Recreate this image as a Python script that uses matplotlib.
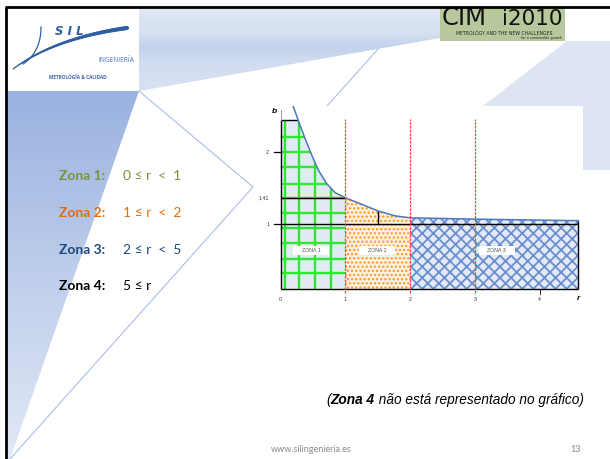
import numpy as np
import matplotlib
matplotlib.use("Agg")
import matplotlib.pyplot as plt
from matplotlib.patches import Polygon, Rectangle
from matplotlib.collections import LineCollection
from matplotlib.colors import to_rgb

# ---------------- chart values ----------------
curve_r = [0.195, 0.27, 0.375, 0.48, 0.58, 0.71, 0.84, 1.00, 1.25, 1.51, 1.77, 2.00, 3.00, 4.60]
curve_b = [2.82, 2.61, 2.33, 2.07, 1.84, 1.63, 1.49, 1.41, 1.31, 1.205, 1.13, 1.10, 1.08, 1.056]
zone_edges = [0.0, 1.0, 2.0, 4.6]
zone1_cap = 2.61
grid_x = [0.06, 0.29, 0.53, 0.77]
grid_y = [0.24, 0.47, 0.71, 0.94, 1.17, 1.41, 1.63, 1.89, 2.12, 2.35]
zone_names = ["ZONA 1", "ZONA 2", "ZONA 3"]
zone_label_x = [0.47, 1.49, 3.34]
zone_label_y = 0.60
red_lines = [1, 2, 3]
xtick_vals = [0, 1, 2, 3, 4]
ytick_pos = [1.0, 2.11]
ytick_lbl = ["1", "2"]
b_mark = 1.41
b_mark_lbl = "1,41"
step_r = 1.51

side_labels = ["Zona 1:", "Zona 2:", "Zona 3:", "Zona 4:"]
side_ranges = ["0 \u2264 r  <  1", "1 \u2264 r  <  2", "2 \u2264 r  <  5", "5 \u2264 r"]
side_colors = ["#77933c", "#e46c0a", "#1f497d", "#000000"]
side_y = [176, 213, 250, 286]

W, H = 610, 459


def vgrad(ax, pts, stops, z=1):
    # polygon filled with a vertical gradient
    pts = np.array(pts, float)
    x0, x1 = pts[:, 0].min(), pts[:, 0].max()
    y0, y1 = pts[:, 1].min(), pts[:, 1].max()
    ys = np.linspace(y0, y1, 200)
    sy = [s[0] for s in stops]
    cols = np.array([to_rgb(s[1]) for s in stops])
    arr = np.stack([np.interp(ys, sy, cols[:, k]) for k in range(3)], axis=1)
    img = np.repeat(arr[:, None, :], 2, axis=1)
    poly = Polygon(pts, closed=True, fc="none", ec="none")
    ax.add_patch(poly)
    im = ax.imshow(img, extent=(x0, x1, y1, y0), origin="upper", aspect="auto",
                   interpolation="bilinear", zorder=z)
    im.set_clip_path(poly)


def bez(p0, p1, p2, n=60):
    t = np.linspace(0, 1, n)[:, None]
    p0, p1, p2 = map(np.array, (p0, p1, p2))
    return (1 - t) ** 2 * p0 + 2 * (1 - t) * t * p1 + t ** 2 * p2


fig = plt.figure(figsize=(W / 100, H / 100), dpi=100)
bg = fig.add_axes([0, 0, 1, 1])
bg.axis("off")

# ---------------- slide decoration ----------------
vgrad(bg, [(7, 91), (139, 91), (10, 459), (7, 459)],
      [(91, "#9ab2e0"), (459, "#e2e9f6")])
vgrad(bg, [(139, 8), (440, 8), (440, 38), (139, 91)],
      [(8, "#e0e8f3"), (32, "#d6e0f0"), (46, "#c2d2ec"), (62, "#d0dcf0"), (91, "#d8e2f2")])
bg.add_patch(Polygon([(567, 41), (610, 41), (610, 170), (583, 170), (583, 106), (483, 106)],
                     closed=True, fc="#dde5f3", ec="none", zorder=1))

bg.plot([139, 253, 10], [91, 187, 459], color="#a9bfe5", lw=0.8, zorder=2)
bg.plot([378, 327], [49, 106], color="#a9bfe5", lw=0.8, zorder=2)

bg.plot([5, 610], [7, 7], color="black", lw=2, zorder=5, solid_capstyle="butt")
bg.plot([6, 6], [7, 459], color="black", lw=2, zorder=5, solid_capstyle="butt")

# SIL logo
sw = bez((13, 69), (55, 38), (127, 28))
segs = np.stack([sw[:-1], sw[1:]], axis=1)
bg.add_collection(LineCollection(segs, colors="#2f5fa3", linewidths=np.linspace(0.8, 3.0, len(segs)),
                                 capstyle="round", zorder=3))
st = bez((41, 27), (41, 52), (23, 64))
bg.plot(st[:, 0], st[:, 1], color="#2f5fa3", lw=0.9, zorder=3)
bg.text(55, 35, "S I L", fontsize=8.5, fontstyle="italic", fontweight="bold",
        color="#2f5fa3", family="DejaVu Sans", va="baseline", zorder=3)
bg.text(134, 61, "INGENIERÍA", fontsize=4.8, color="#4a73b5", ha="right", va="center",
        family="Open Sans", zorder=3)
bg.text(49, 77, "METROLOGÍA & CALIDAD", fontsize=3.4, color="#3a64a8", ha="left", va="center",
        family="Open Sans", fontweight="bold", zorder=3)

# CIMi2010 logo
bg.add_patch(Rectangle((440, 8), 125, 33, fc="#b6c89c", ec="none", zorder=3))
bg.text(442, 25, "CIM", fontsize=17.5, color="#111111", va="baseline", ha="left",
        family="DejaVu Sans", zorder=4)
bg.text(563, 25, "i2010", fontsize=15.5, color="#111111", va="baseline", ha="right",
        family="DejaVu Sans", zorder=4)
bg.text(504, 33.3, "METROLOGY AND THE NEW CHALLENGES", fontsize=3.3, color="#222222",
        ha="center", va="center", family="DejaVu Sans", zorder=4)
bg.text(562, 38, "for a sustainable growth", fontsize=2.4, color="#222222",
        ha="right", va="center", family="DejaVu Sans", zorder=4)

# left zone list
for lbl, rng, col, yy in zip(side_labels, side_ranges, side_colors, side_y):
    bg.text(59, yy, lbl, fontsize=10, fontweight="bold", color=col, va="center",
            family=["Lato", "DejaVu Sans"], zorder=4)
    bg.text(123, yy, rng, fontsize=10, color=col, va="center",
            family=["Lato", "DejaVu Sans"], zorder=4)

# note + footer
n1 = bg.text(326, 400, "(", fontsize=9.8, fontstyle="italic", va="center",
             family="Liberation Sans", zorder=4)
n2 = bg.annotate("Zona 4", xy=(1, 0), xycoords=n1, fontsize=9.8, fontstyle="italic",
                 fontweight="bold", va="bottom", family="Liberation Sans", zorder=4)
bg.annotate(" não está representado no gráfico)", xy=(1, 0), xycoords=n2, fontsize=9.8,
            fontstyle="italic", va="bottom", family="Liberation Sans", zorder=4)
bg.text(311, 449, "www.silingenieria.es", fontsize=6.5, color="#8a8a8a", ha="center",
        va="center", family="Lato", zorder=4)
bg.text(576, 449, "13", fontsize=6.5, color="#8a8a8a", ha="center", va="center",
        family="Lato", zorder=4)

bg.set_xlim(0, W)
bg.set_ylim(H, 0)

# ---------------- chart ----------------
x0px, y0px, unit = 280.7, 289.0, 64.7
L, R, T, B = 258, 583, 106, 315
ax = fig.add_axes([L / W, 1 - B / H, (R - L) / W, (B - T) / H])
ax.set_xlim((L - x0px) / unit, (R - x0px) / unit)
ax.set_ylim((y0px - B) / unit, (y0px - T) / unit)
ax.set_xticks([])
ax.set_yticks([])
for s in ax.spines.values():
    s.set_visible(False)
ax.set_facecolor("white")


def under_curve(r0, r1, cap=None):
    rr = np.linspace(r0, r1, 200)
    bb = np.interp(rr, curve_r, curve_b)
    if cap is not None:
        bb = np.minimum(bb, cap)
    return [(r0, 0)] + list(zip(rr, bb)) + [(r1, 0)]


z1 = Polygon(under_curve(zone_edges[0], zone_edges[1], zone1_cap), closed=True,
             fc="#e3e9f5", ec="none", zorder=2)
ax.add_patch(z1)
for gx in grid_x:
    ln, = ax.plot([gx, gx], [0, 3], color="#2ee82e", lw=1.7, zorder=3)
    ln.set_clip_path(z1)
for gy in grid_y:
    ln, = ax.plot([0, 1], [gy, gy], color="#2ee82e", lw=1.7, zorder=3)
    ln.set_clip_path(z1)

z2 = Polygon(under_curve(zone_edges[1], zone_edges[2]), closed=True, fc="#fdf0e2",
             ec="#f39c22", lw=0, hatch="....", zorder=2)
ax.add_patch(z2)
z3 = Polygon(under_curve(zone_edges[2], zone_edges[3]), closed=True, fc="#e3eaf6",
             ec="#6a8fd0", lw=0, hatch="xxx", zorder=2)
ax.add_patch(z3)
if hasattr(z2, "set_hatch_linewidth"):
    z2.set_hatch_linewidth(1.1)
    z3.set_hatch_linewidth(1.3)

# black outline pieces
blk = dict(color="black", lw=1.0, zorder=5, solid_capstyle="butt")
ax.plot([0, zone_edges[3]], [0, 0], **blk)
ax.plot([0, zone_edges[3]], [1, 1], **blk)
ax.plot([0, 1], [b_mark, b_mark], **blk)
ax.plot([0, 0.27], [zone1_cap, zone1_cap], **blk)
ax.plot([zone_edges[3]] * 2, [0, np.interp(zone_edges[3], curve_r, curve_b)], **blk)
ax.plot([step_r] * 2, [1, np.interp(step_r, curve_r, curve_b)], **blk)
ax.plot([0, 0], [0, zone1_cap], **blk)
ax.plot([0, 0], [zone1_cap, 2.77], color="#888888", lw=0.6, zorder=5)

ax.plot(curve_r, curve_b, color="#4f78bd", lw=1.1, zorder=6)

for rx in red_lines:
    ax.plot([rx, rx], [-0.06, 2.63], color="#ff3b3b", lw=0.9, ls=(0, (2, 1)), zorder=7)

# ticks and labels
tk = dict(fontsize=3.8, color="#333333", family="Liberation Sans")
for xv in xtick_vals:
    ax.text(xv, -0.16, str(xv), ha="center", va="center", **tk)
ax.plot([4, 4], [0, -0.08], color="black", lw=0.6, zorder=5)
for yp, yl in zip(ytick_pos, ytick_lbl):
    ax.plot([-0.11, 0], [yp, yp], color="black", lw=0.9, zorder=5)
    ax.text(-0.18, yp, yl, ha="right", va="center", **tk)
ax.text(-0.18, b_mark, b_mark_lbl, ha="right", va="center", **tk)
ax.text(-0.09, 2.74, "b", fontsize=6, fontweight="bold", fontstyle="italic",
        ha="center", va="center", family="Liberation Sans")
ax.text(4.6, -0.15, "r", fontsize=6, fontweight="bold", fontstyle="italic",
        ha="center", va="center", family="Liberation Sans")

for nm, zx in zip(zone_names, zone_label_x):
    ax.add_patch(Rectangle((zx - 0.28, zone_label_y - 0.072), 0.56, 0.144,
                           fc="white", ec="none", zorder=8))
    ax.text(zx, zone_label_y, nm, ha="center", va="center", zorder=9,
            fontsize=3.8, color="#555555", family="Liberation Sans")

fig.savefig("out.png", dpi=100)
